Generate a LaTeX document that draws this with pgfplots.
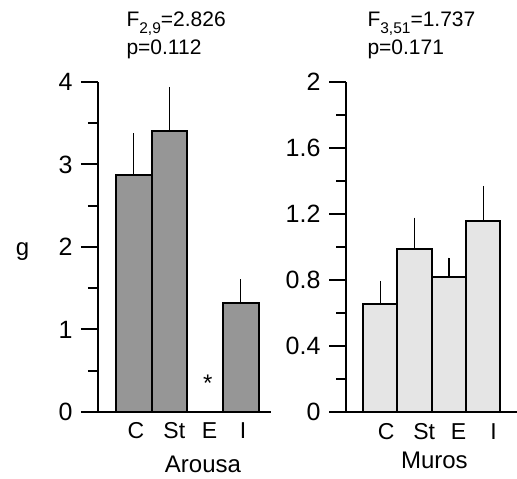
\documentclass[border=0pt]{standalone}
\usepackage{fontspec}
\setmainfont{Liberation Sans}
\usepackage{pgfplots}
\pgfplotsset{compat=1.18}
\definecolor{darkbar}{RGB}{150,150,150}
\definecolor{lightbar}{RGB}{229,229,229}
\newcommand{\sub}[1]{\raisebox{-0.32em}{\fontsize{15.5}{18}\selectfont #1}}
\begin{document}
\begin{tikzpicture}
\path[use as bounding box] (0,0) rectangle (517pt,479pt);
\pgfplotsset{
  myaxis/.style={
    scale only axis, anchor=south west,
    height=330pt, ymin=0,
    axis x line=bottom, axis y line=left,
    axis line style={-, line width=2pt, black},
    tick style={line width=2pt, black},
    major tick length=17pt, minor tick length=10pt,
    tick align=outside,
    xtick style={draw=none},
    /pgf/number format/assume math mode=true,
    y tick label style={font=\fontsize{25}{29}\selectfont, xshift=-5pt},
    x tick label style={font=\fontsize{23}{27}\selectfont, anchor=base, yshift=-10pt},
    xlabel style={font=\fontsize{24}{28}\selectfont, anchor=base},
    ybar, bar width=1,
    clip=false,
  },
  myerr/.style={error bars/.cd, y dir=plus, y explicit, error mark=none,
    error bar style={line width=1.3pt, black}},
}
% Left panel: Arousa
\begin{axis}[myaxis, at={(98pt,67pt)}, width=173pt,
  xmin=0, xmax=4.85, ymax=4,
  ytick={0,1,2,3,4}, minor ytick={0.5,1.5,2.5,3.5},
  xtick={1.06,2.14,3.13,4.07}, xticklabels={C,St,E,I},
  xlabel={Arousa}, xlabel style={at={(rel axis cs:0.607,0)}, yshift=-61pt},
  ylabel={g},
  every axis y label/.style={at={(rel axis cs:-0.436,0.473)}, anchor=base, font=\fontsize{24}{28}\selectfont},
]
\addplot[fill=darkbar, draw=black, line width=2pt, myerr]
  coordinates {(1,2.87) +- (0,0.51) (2,3.40) +- (0,0.54) (4,1.32) +- (0,0.29)};
\node[anchor=base, font=\fontsize{24}{28}\selectfont] at (axis cs:3.08,0.25) {*};
\end{axis}
% Right panel: Muros
\begin{axis}[myaxis, at={(346pt,67pt)}, width=171.6pt,
  xmin=0, xmax=5, ymax=2,
  ytick={0,0.4,0.8,1.2,1.6,2}, minor ytick={0.2,0.6,1.0,1.4,1.8},
  yticklabels={0,0.4,0.8,1.2,1.6,2},
  xtick={1.17,2.28,3.28,4.30}, xticklabels={C,St,E,I},
  xlabel={Muros}, xlabel style={at={(rel axis cs:0.515,0)}, yshift=-57pt},
]
\addplot[fill=lightbar, draw=black, line width=2pt, myerr]
  coordinates {(1,0.656) +- (0,0.138) (2,0.99) +- (0,0.188) (3,0.818) +- (0,0.117) (4,1.156) +- (0,0.214)};
\end{axis}
\node[anchor=base west, font=\fontsize{21}{25}\selectfont] at (123pt,452pt) {F\sub{2,9}=2.826};
\node[anchor=base west, font=\fontsize{21}{25}\selectfont] at (123pt,424pt) {p=0.112};
\node[anchor=base west, font=\fontsize{21}{25}\selectfont] at (364pt,452pt) {F\sub{3,51}=1.737};
\node[anchor=base west, font=\fontsize{21}{25}\selectfont] at (364pt,424pt) {p=0.171};
\end{tikzpicture}
\end{document}
